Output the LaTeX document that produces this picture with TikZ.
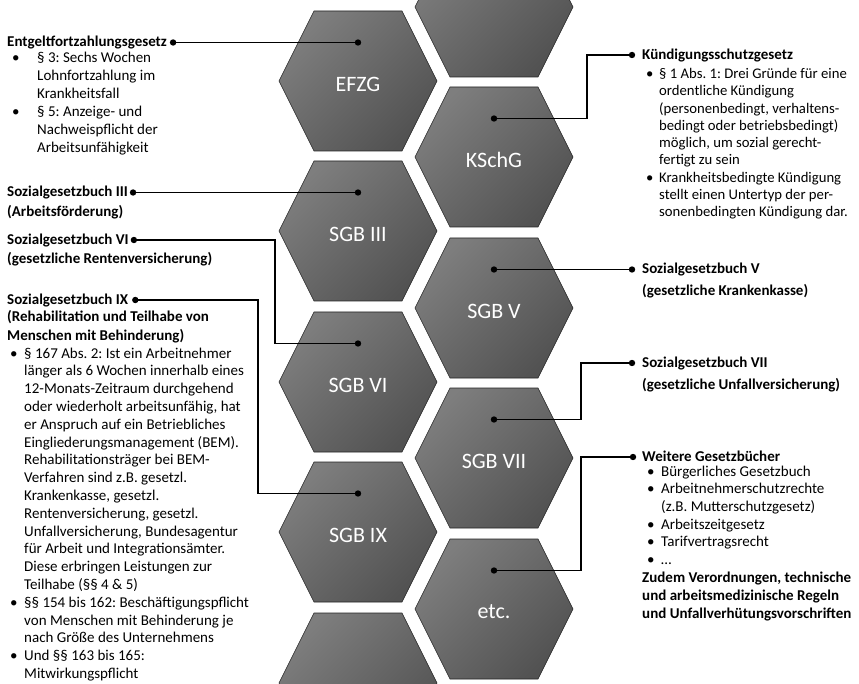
\documentclass[tikz,border=0pt]{standalone}
\usepackage{fontspec}
\setmainfont{Carlito}
\usetikzlibrary{positioning}
\definecolor{hexlight}{RGB}{126,126,126}
\definecolor{hexdark}{RGB}{82,82,82}
\definecolor{hexedge}{RGB}{35,35,35}
\newcommand{\lawstrut}{\rule[-4pt]{0pt}{17pt}}
\newcommand{\bul}[1][14pt]{\makebox[#1][l]{\textbullet}}
\newcommand{\ind}[1][14pt]{\hspace*{#1}}
\frenchspacing
\tikzset{
  hexcell/.style={draw=hexedge,line width=0.6pt,shading=axis,top color=hexlight,bottom color=hexdark,shading angle=45},
  hexlabel/.style={text=white,font=\fontsize{22}{26}\selectfont,inner sep=0pt},
  lawhead/.style={font=\bfseries\fontsize{15}{19}\selectfont,inner sep=0pt,align=left,execute at begin node=\lawstrut},
  lawtext/.style={font=\fontsize{15}{18}\selectfont,inner sep=0pt,align=left,anchor=north west,execute at begin node=\lawstrut},
  link/.style={line width=1.3pt},
  linkdot/.style={fill=black},
}

\begin{document}
\begin{tikzpicture}[x=1pt,y=-1pt]
  \useasboundingbox (0,0) rectangle (859,684);
  % cut hexagons at the borders
  \begin{scope}
    \clip (0,0) rectangle (859,684);
    \foreach \cx/\cy in {494/7, 358/683} {
      \path[hexcell] (\cx-79,\cy) -- (\cx-44,\cy-70) -- (\cx+44,\cy-70) -- (\cx+79,\cy) -- (\cx+44,\cy+70) -- (\cx-44,\cy+70) -- cycle;
    }
  \end{scope}
  % labelled hexagons
  \foreach \cx/\cy/\hid/\txt in {358/81/efzg/EFZG, 358/231/sgbiii/SGB III, 358/382/sgbvi/SGB VI, 358/532/sgbix/SGB IX,
      494/157/kschg/KSchG, 494/308/sgbv/SGB V, 494/458/sgbvii/SGB VII, 494/609/etc/etc.} {
    \path[hexcell] (\cx-79,\cy) -- (\cx-44,\cy-70) -- (\cx+44,\cy-70) -- (\cx+79,\cy) -- (\cx+44,\cy+70) -- (\cx-44,\cy+70) -- cycle;
    \node[hexlabel] (\hid) at (\cx,\cy+3) {\txt};
    \coordinate (\hid-pin) at (\cx,\cy-38.5);
  }

  % left side
  \node[lawhead,anchor=west] (efzghead) at (7,42.5) {Entgeltfortzahlungsgesetz};
  \coordinate[right=6pt of efzghead] (efzgdot);
  \node[lawtext] (efzgbody) at (12,51.5) {%
    \bul[25pt]§ 3: Sechs Wochen\\
    \ind[25pt]Lohnfortzahlung im\\
    \ind[25pt]Krankheitsfall\\
    \bul[25pt]§ 5: Anzeige- und\\
    \ind[25pt]Nachweispflicht der\\
    \ind[25pt]Arbeitsunfähigkeit};

  \node[lawhead,anchor=west] (sgbiiihead) at (7,192.5) {Sozialgesetzbuch III};
  \coordinate[right=5pt of sgbiiihead] (sgbiiidot);
  \node[lawhead,anchor=north west] (sgbiiisub) at ([yshift=-6pt]sgbiiihead.base west) {(Arbeitsförderung)};

  \node[lawhead,anchor=west] (sgbvihead) at (7,240) {Sozialgesetzbuch VI};
  \coordinate[right=5pt of sgbvihead] (sgbvidot);
  \node[lawhead,anchor=north west] (sgbvisub) at ([yshift=-6pt]sgbvihead.base west) {(gesetzliche Rentenversicherung)};

  \node[lawhead,anchor=west] (sgbixhead) at (7,300) {Sozialgesetzbuch IX};
  \coordinate[right=7pt of sgbixhead] (sgbixdot);
  \node[lawhead,anchor=north west] (sgbixsub) at ([yshift=-6pt]sgbixhead.base west) {(Rehabilitation und Teilhabe von\\Menschen mit Behinderung)};
  \node[lawtext,font=\fontsize{15}{17.8}\selectfont] (sgbixbody) at (10,347.5) {%
    \bul §~167 Abs. 2: Ist ein Arbeitnehmer\\
    \ind länger als 6 Wochen innerhalb eines\\
    \ind 12-Monats-Zeitraum durchgehend\\
    \ind oder wiederholt arbeitsunfähig, hat\\
    \ind er Anspruch auf ein Betriebliches\\
    \ind Eingliederungsmanagement (BEM).\\
    \ind Rehabilitationsträger bei BEM-\\
    \ind Verfahren sind z.B. gesetzl.\\
    \ind Krankenkasse, gesetzl.\\
    \ind Rentenversicherung, gesetzl.\\
    \ind Unfallversicherung, Bundesagentur\\
    \ind für Arbeit und Integrationsämter.\\
    \ind Diese erbringen Leistungen zur\\
    \ind Teilhabe (§§ 4 \& 5)\\
    \bul §§ 154 bis 162: Beschäftigungspflicht\\
    \ind von Menschen mit Behinderung je\\
    \ind nach Größe des Unternehmens\\
    \bul Und §§ 163 bis 165:\\
    \ind Mitwirkungspflicht};

  % right side
  \coordinate (kschgdot) at (632,55);
  \node[lawhead,right=10pt of kschgdot] (kschghead) {Kündigungsschutzgesetz};
  \node[lawtext,font=\fontsize{14.7}{17.3}\selectfont] (kschgbody) at (646,68) {%
    \bul[13pt]§ 1 Abs. 1: Drei Gründe für eine\\
    \ind[13pt]ordentliche Kündigung\\
    \ind[13pt](personenbedingt, verhaltens-\\
    \ind[13pt]bedingt oder betriebsbedingt)\\
    \ind[13pt]möglich, um sozial gerecht-\\
    \ind[13pt]fertigt zu sein\\
    \bul[13pt]Krankheitsbedingte Kündigung\\
    \ind[13pt]stellt einen Untertyp der per-\\
    \ind[13pt]sonenbedingten Kündigung dar.};

  \coordinate (sgbvdot) at (632,269.5);
  \node[lawhead,right=10pt of sgbvdot] (sgbvhead) {Sozialgesetzbuch V};
  \node[lawhead,anchor=north west] (sgbvsub) at ([yshift=-8pt]sgbvhead.base west) {(gesetzliche Krankenkasse)};

  \coordinate (sgbviidot) at (632,363);
  \node[lawhead,right=10pt of sgbviidot] (sgbviihead) {Sozialgesetzbuch VII};
  \node[lawhead,anchor=north west] (sgbviisub) at ([yshift=-8.5pt]sgbviihead.base west) {(gesetzliche Unfallversicherung)};

  \coordinate (etcdot) at (633,457);
  \node[lawhead,right=9pt of etcdot] (etchead) {Weitere Gesetzbücher};
  \node[lawtext,font=\fontsize{15}{17.7}\selectfont] (etcbody) at (647,465.5) {%
    \bul[14pt]Bürgerliches Gesetzbuch\\
    \bul[14pt]Arbeitnehmerschutzrechte\\
    \ind[14pt](z.B. Mutterschutzgesetz)\\
    \bul[14pt]Arbeitszeitgesetz\\
    \bul[14pt]Tarifvertragsrecht\\
    \bul[14pt]…};
  \node[lawhead,anchor=north west,font=\bfseries\fontsize{15}{18}\selectfont] (etcnote) at (642,572) {Zudem Verordnungen, technische\\und arbeitsmedizinische Regeln\\und Unfallverhütungsvorschriften};

  % connectors
  \draw[link] (efzgdot) -- (efzg-pin);
  \draw[link] (sgbiiidot) -- (sgbiii-pin);
  \draw[link] (sgbvidot) -| ([xshift=-83pt]sgbvi-pin) -- (sgbvi-pin);
  \draw[link] (sgbixdot) -| ([xshift=-100pt]sgbix-pin) -- (sgbix-pin);
  \draw[link] (kschg-pin) -| ([xshift=-45pt]kschgdot) -- (kschgdot);
  \draw[link] (sgbv-pin) -- (sgbvdot);
  \draw[link] (sgbvii-pin) -| ([xshift=-51pt]sgbviidot) -- (sgbviidot);
  \draw[link] (etc-pin) -| ([xshift=-52pt]etcdot) -- (etcdot);
  \foreach \p in {efzgdot,efzg-pin,sgbiiidot,sgbiii-pin,sgbvidot,sgbvi-pin,sgbixdot,sgbix-pin,
      kschgdot,kschg-pin,sgbvdot,sgbv-pin,sgbviidot,sgbvii-pin,etcdot,etc-pin}
    \fill[linkdot] (\p) circle (3.2pt);
\end{tikzpicture}
\end{document}
